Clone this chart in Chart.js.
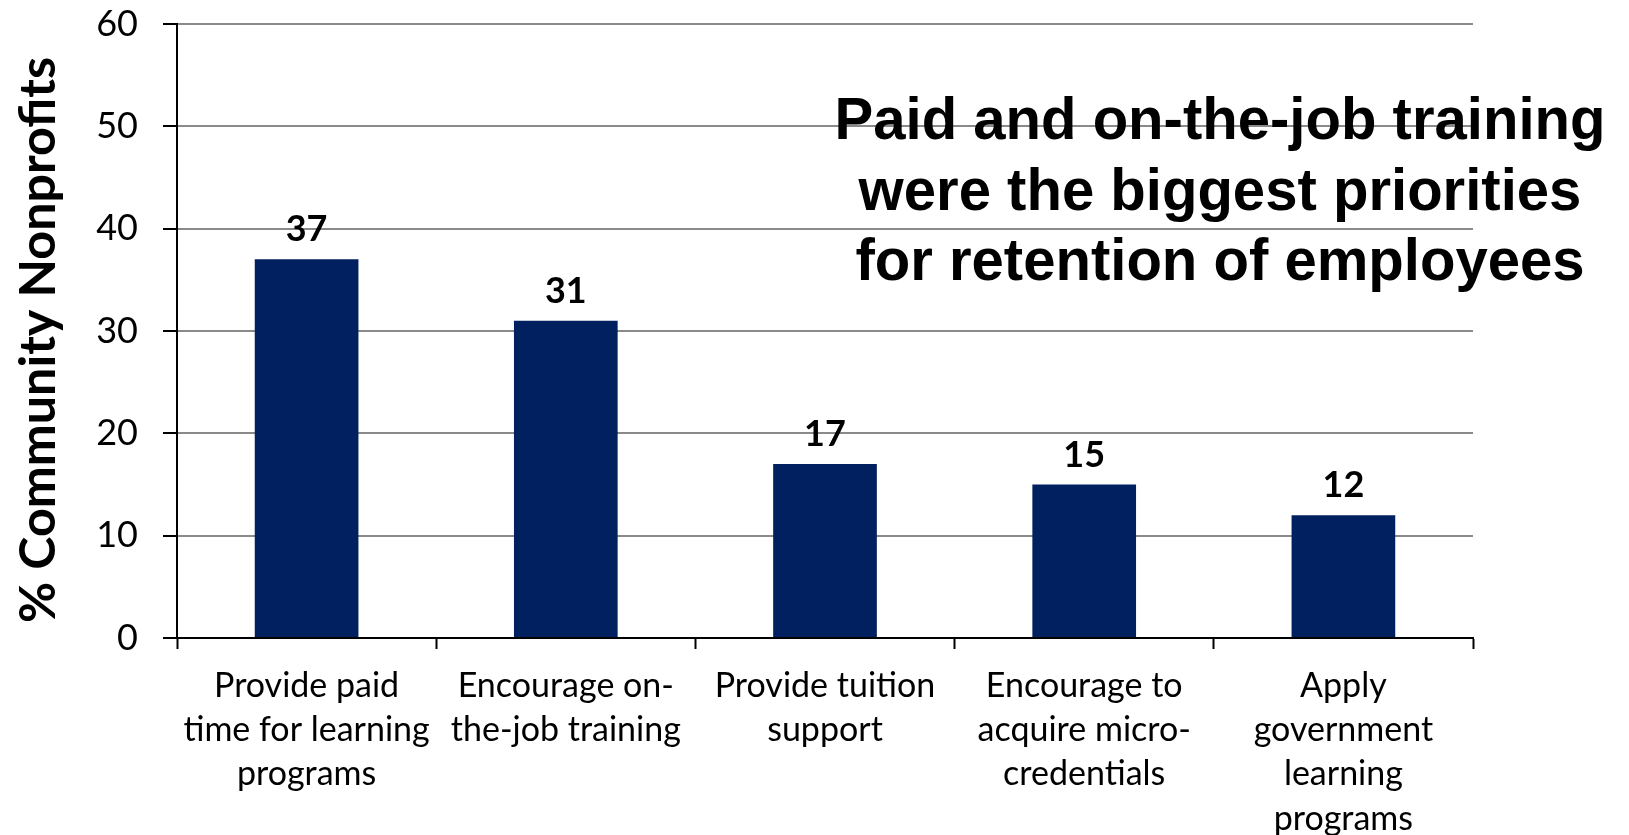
<!DOCTYPE html>
<html>
<head>
<meta charset="utf-8">
<script src="https://cdn.jsdelivr.net/npm/chart.js@4.4.1/dist/chart.umd.min.js"></script>
<style>
  html, body { margin: 0; padding: 0; background: #fff; }
  #wrap { width: 1629px; height: 835px; }
</style>
</head>
<body>
<div id="wrap"><canvas id="retentionChart" width="1629" height="835"></canvas></div>
<script>
// =========================
// Chart data
// =========================

const categories = [
  ["Provide paid", "time for learning", "programs"],
  ["Encourage on-", "the-job training"],
  ["Provide tuition", "support"],
  ["Encourage to", "acquire micro-", "credentials"],
  ["Apply", "government", "learning", "programs"]
];
const shares = [37, 31, 17, 15, 12];
const yTicks = [0, 10, 20, 30, 40, 50, 60];
const yTitle = "% Community Nonprofits";
const headline = [
  "Paid and on-the-job training",
  "were the biggest priorities",
  "for retention of employees"
];

const NAVY = "#002060";

// value labels, rotated axis title and the headline sitting on the grid
const overlayText = {
  id: "overlayText",
  afterDatasetsDraw(chart) {
    const ctx = chart.ctx;
    const meta = chart.getDatasetMeta(0);
    ctx.save();
    ctx.fillStyle = "#000";
    ctx.font = "bold 36px Lato";
    ctx.textAlign = "center";
    ctx.textBaseline = "alphabetic";
    meta.data.forEach((bar, i) => {
      ctx.fillText(String(shares[i]), bar.x, bar.y - 18);
    });
    ctx.restore();
  },
  afterDraw(chart) {
    const ctx = chart.ctx;

    // y axis title, squeezed along its length like the original
    ctx.save();
    ctx.fillStyle = "#000";
    ctx.font = "bold 50px Lato";
    const tw = ctx.measureText(yTitle).width;
    ctx.translate(55, 340);
    ctx.rotate(-Math.PI / 2);
    ctx.scale(566 / tw, 1);
    ctx.textAlign = "center";
    ctx.textBaseline = "alphabetic";
    ctx.fillText(yTitle, 0, 0);
    ctx.restore();

    // headline
    ctx.save();
    ctx.fillStyle = "#000";
    ctx.font = "bold 59px 'Liberation Sans', Arial, sans-serif";
    const sx = 771 / ctx.measureText(headline[0]).width;
    ctx.translate(1220, 0);
    ctx.scale(sx, 1);
    ctx.textAlign = "center";
    ctx.textBaseline = "alphabetic";
    headline.forEach((line, i) => {
      ctx.fillText(line, 0, 139 + i * 70.5);
    });
    ctx.restore();
  }
};

// =========================
// Create chart
// =========================

const ctx = document.getElementById("retentionChart").getContext("2d");

const retentionChart = new Chart(ctx, {
  type: "bar",
  data: {
    labels: categories,
    datasets: [{
      data: shares,
      backgroundColor: NAVY,
      borderWidth: 0,
      categoryPercentage: 1.0,
      barPercentage: 0.4
    }]
  },
  options: {
    responsive: false,
    animation: false,
    layout: { padding: { top: 24, right: 156, bottom: 0, left: 0 } },
    plugins: {
      legend: { display: false },
      tooltip: { enabled: false }
    },
    scales: {
      x: {
        offset: true,
        grid: {
          offset: true,
          drawOnChartArea: false,
          drawTicks: true,
          tickLength: 11,
          tickColor: "#000",
          tickWidth: 2
        },
        border: { color: "#000", width: 2 },
        ticks: {
          color: "#000",
          font: { family: "Lato", size: 34, lineHeight: 1.3 },
          padding: 15,
          maxRotation: 0,
          autoSkip: false
        },
        afterFit(scale) {
          scale.height = 197;
          scale.paddingLeft = 0;
          scale.paddingRight = 0;
        }
      },
      y: {
        min: 0,
        max: 60,
        afterBuildTicks(scale) {
          scale.ticks = yTicks.map(v => ({ value: v }));
        },
        ticks: {
          color: "#000",
          font: { family: "Lato", size: 36 },
          padding: 25
        },
        grid: {
          color: "#8a8a8a",
          lineWidth: 2,
          tickColor: "#000",
          tickLength: 14,
          tickWidth: 2
        },
        border: { color: "#000", width: 2 },
        afterFit(scale) {
          scale.width = 177;
          scale.paddingTop = 0;
          scale.paddingBottom = 0;
        }
      }
    }
  },
  plugins: [overlayText]
});
</script>
</body>
</html>
